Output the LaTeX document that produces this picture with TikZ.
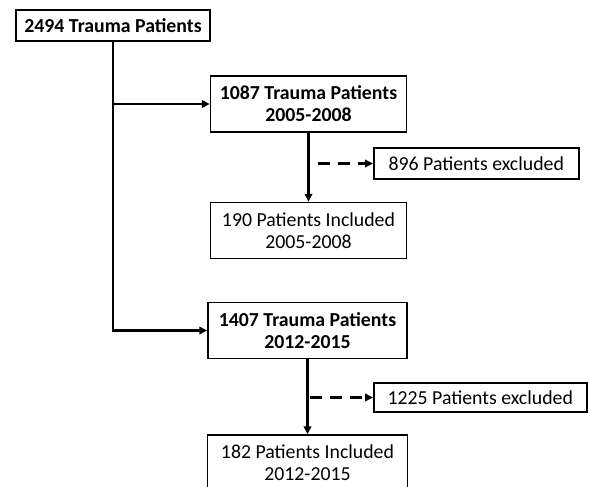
\documentclass[tikz,border=0pt]{standalone}
\usepackage{fontspec}
\setmainfont{Carlito}
\usetikzlibrary{positioning,arrows.meta,calc}

\tikzset{
  box/.style={draw, line width=1.5pt, minimum width=196pt, minimum height=56pt,
    align=center, inner sep=2pt, font=\fontsize{19.8}{22}\selectfont},
  head/.style={box, font=\bfseries\fontsize{19.8}{22}\selectfont},
  exbox/.style={box, minimum width=205pt, minimum height=31pt, anchor=west},
  flow/.style={line width=2.4pt, -{Triangle[length=8pt,width=7.5pt]}},
  skip/.style={flow, dash pattern=on 12pt off 8pt}
}

\begin{document}
\begin{tikzpicture}[x=1pt,y=-1pt]
  \useasboundingbox (0,0) rectangle (589,487);
  \clip (0,0) rectangle (589,487);

  \node[head, minimum width=194pt, minimum height=31pt] (all) at (113,25.5) {2494 Trauma Patients};

  % 2005-2008
  \node[head] (p1) at (308.5,104) {1087 Trauma Patients\\2005-2008};
  \node[box, below=69pt of p1] (in1) {190 Patients Included\\2005-2008};
  \node[exbox] (ex1) at (373,163.5) {896 Patients excluded};

  % 2012-2015
  \node[head, minimum width=199pt] (p2) at (307.5,330.5) {1407 Trauma Patients\\2012-2015};
  \node[box, minimum width=200pt, below=75pt of p2] (in2) {182 Patients Included\\2012-2015};
  \node[exbox, minimum width=213pt, minimum height=29pt] (ex2) at (373,397.5) {1225 Patients excluded};

  \coordinate (d1) at ($(ex1.west -| p1.south)+(9,0)$);
  \coordinate (d2) at ($(ex2.west -| p2.south)+(2,0)$);

  \draw[flow] (all.south) |- (p2.west);
  \draw[flow] (all.south |- p1.west) -- (p1.west);
  \draw[flow] (p1) -- (in1);
  \draw[flow] (p2) -- (in2);
  \draw[skip] (d1) -- (ex1.west);
  \draw[skip] (d2) -- (ex2.west);
\end{tikzpicture}
\end{document}
